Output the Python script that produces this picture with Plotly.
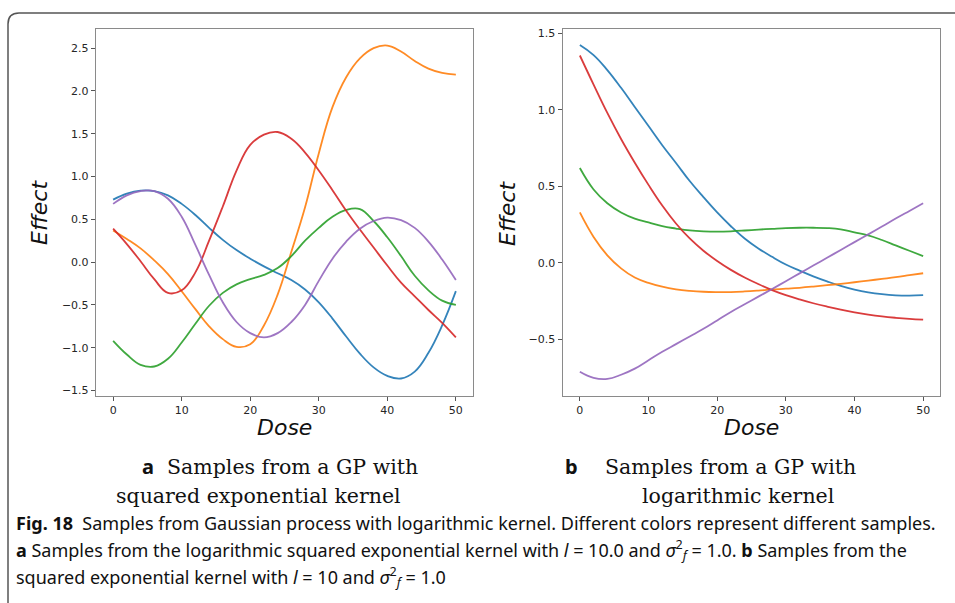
import plotly.graph_objects as go

W, H = 955, 603

# ---------------- data ----------------
dose = [0, 2, 4, 6, 8, 10, 12, 14, 16, 18, 20, 22, 24, 26, 28, 30, 32, 34, 36, 38, 40, 42, 44, 46, 48, 50]

# Panel a: squared exponential kernel samples
a_blue = [0.73, 0.80, 0.835, 0.83, 0.78, 0.68, 0.55, 0.40, 0.26, 0.14, 0.04, -0.05, -0.13, -0.21, -0.32, -0.47,
          -0.66, -0.87, -1.07, -1.23, -1.33, -1.36, -1.28, -1.06, -0.74, -0.34]
a_orange = [0.37, 0.27, 0.16, 0.02, -0.14, -0.34, -0.55, -0.75, -0.90, -0.99, -0.96, -0.74, -0.38, 0.12, 0.64, 1.27,
            1.81, 2.16, 2.38, 2.50, 2.53, 2.46, 2.35, 2.26, 2.21, 2.19]
a_green = [-0.92, -1.08, -1.20, -1.22, -1.13, -0.94, -0.72, -0.51, -0.36, -0.26, -0.20, -0.15, -0.07, 0.07, 0.25, 0.40,
           0.53, 0.61, 0.62, 0.48, 0.29, 0.07, -0.16, -0.33, -0.45, -0.50]
a_red = [0.39, 0.21, 0.01, -0.20, -0.36, -0.33, -0.12, 0.25, 0.65, 1.07, 1.37, 1.49, 1.52, 1.44, 1.28, 1.07,
         0.84, 0.60, 0.38, 0.17, -0.04, -0.24, -0.40, -0.56, -0.71, -0.88]
a_purple = [0.68, 0.78, 0.83, 0.83, 0.74, 0.53, 0.20, -0.15, -0.47, -0.70, -0.83, -0.88, -0.83, -0.70, -0.50, -0.22,
            0.04, 0.24, 0.39, 0.48, 0.52, 0.49, 0.40, 0.24, 0.03, -0.21]

# Panel b: logarithmic kernel samples
b_blue = [1.424, 1.358, 1.26, 1.144, 1.019, 0.894, 0.769, 0.653, 0.535, 0.43, 0.33, 0.24, 0.16, 0.095, 0.04, -0.01,
          -0.05, -0.087, -0.12, -0.15, -0.174, -0.192, -0.204, -0.211, -0.213, -0.21]
b_orange = [0.33, 0.17, 0.05, -0.035, -0.095, -0.13, -0.155, -0.172, -0.182, -0.188, -0.19, -0.19, -0.186, -0.18,
            -0.173, -0.168, -0.162, -0.154, -0.145, -0.136, -0.126, -0.115, -0.104, -0.093, -0.08, -0.067]
b_green = [0.62, 0.48, 0.39, 0.33, 0.29, 0.265, 0.24, 0.225, 0.213, 0.207, 0.205, 0.207, 0.212, 0.218, 0.223, 0.228,
           0.23, 0.23, 0.228, 0.22, 0.20, 0.18, 0.15, 0.115, 0.08, 0.045]
b_red = [1.355, 1.165, 0.98, 0.81, 0.655, 0.51, 0.375, 0.258, 0.16, 0.08, 0.013, -0.045, -0.095, -0.138, -0.177, -0.21,
         -0.238, -0.263, -0.285, -0.305, -0.322, -0.337, -0.349, -0.358, -0.365, -0.37]
b_purple = [-0.71, -0.75, -0.757, -0.73, -0.69, -0.635, -0.58, -0.53, -0.48, -0.43, -0.375, -0.32, -0.27, -0.22,
            -0.17, -0.119, -0.068, -0.017, 0.034, 0.085, 0.136, 0.187, 0.238, 0.29, 0.34, 0.39]

colors = ["#1f77b4", "#ff7f0e", "#2ca02c", "#d62728", "#9467bd"]

x_ticks = [0, 10, 20, 30, 40, 50]
a_y_ticks = [2.5, 2.0, 1.5, 1.0, 0.5, 0.0, -0.5, -1.0, -1.5]
a_y_labels = ["2.5", "2.0", "1.5", "1.0", "0.5", "0.0", "\u22120.5", "\u22121.0", "\u22121.5"]
b_y_ticks = [1.5, 1.0, 0.5, 0.0, -0.5]
b_y_labels = ["1.5", "1.0", "0.5", "0.0", "\u22120.5"]

# ---------------- figure ----------------
fig = go.Figure()

for ys, c in zip([a_blue, a_orange, a_green, a_red, a_purple], colors):
    fig.add_trace(go.Scatter(x=dose, y=ys, mode="lines", xaxis="x", yaxis="y",
                             line=dict(color=c, width=1.8, shape="spline", smoothing=1.2),
                             opacity=0.9, showlegend=False, hoverinfo="skip"))
for ys, c in zip([b_blue, b_orange, b_green, b_red, b_purple], colors):
    fig.add_trace(go.Scatter(x=dose, y=ys, mode="lines", xaxis="x2", yaxis="y2",
                             line=dict(color=c, width=1.8, shape="spline", smoothing=1.2),
                             opacity=0.9, showlegend=False, hoverinfo="skip"))


def px(v):
    return v / W


def py(v):
    return 1 - v / H


tick_font = dict(family="DejaVu Sans", size=11, color="#262626")
axis_common = dict(showgrid=False, zeroline=False, showline=True, mirror=True,
                   linecolor="#8a8a8a", linewidth=1.4, ticks="outside", ticklen=4,
                   tickwidth=1, tickcolor="#555555", tickfont=tick_font, fixedrange=True)

fig.update_layout(
    width=W, height=H, autosize=False,
    margin=dict(l=0, r=0, t=0, b=0),
    paper_bgcolor="white", plot_bgcolor="white",
    xaxis=dict(domain=[px(96), px(473)], range=[-2.5, 52.5], anchor="y",
               tickvals=x_ticks, ticktext=[str(t) for t in x_ticks], **axis_common),
    yaxis=dict(domain=[py(396), py(27)], range=[-1.565, 2.725], anchor="x",
               tickvals=a_y_ticks, ticktext=a_y_labels, **axis_common),
    xaxis2=dict(domain=[px(562.7), px(940.3)], range=[-2.5, 52.5], anchor="y2",
                tickvals=x_ticks, ticktext=[str(t) for t in x_ticks], **axis_common),
    yaxis2=dict(domain=[py(396), py(27)], range=[-0.869, 1.529], anchor="x2",
                tickvals=b_y_ticks, ticktext=b_y_labels, **axis_common),
)

ann_list = []
label_font = dict(family="DejaVu Sans", size=22, color="#111111")
ann_list += [
    dict(x=px(284), y=py(428), text="<i>Dose</i>", font=label_font, xanchor="center"),
    dict(x=px(751), y=py(428), text="<i>Dose</i>", font=label_font, xanchor="center"),
    dict(x=px(40), y=py(212), text="<i>Effect</i>", font=label_font, xanchor="center", textangle=-90),
    dict(x=px(508), y=py(212), text="<i>Effect</i>", font=label_font, xanchor="center", textangle=-90),
]

serif = dict(family="DejaVu Serif", size=20.5, color="#111111")
bold_sans = dict(family="Noto Sans", size=20, color="#111111")

ann_list += [
    dict(x=px(148), y=py(467), text="<b>a</b>", font=bold_sans, xanchor="center"),
    dict(x=px(165), y=py(467), text="Samples from a GP with", font=serif, xanchor="left"),
    dict(x=px(258), y=py(496), text="squared exponential kernel", font=serif, xanchor="center"),
    dict(x=px(571), y=py(467), text="<b>b</b>", font=bold_sans, xanchor="center"),
    dict(x=px(603), y=py(467), text="Samples from a GP with", font=serif, xanchor="left"),
    dict(x=px(738), y=py(496), text="logarithmic kernel", font=serif, xanchor="center"),
]

cap_font = dict(family="Noto Sans", size=18, color="#111111")
cap_lines = [
    "<b>Fig. 18</b>  Samples from Gaussian process with logarithmic kernel. Different colors represent different samples.",
    "<b>a</b> Samples from the logarithmic squared exponential kernel with <i>l</i> = 10.0 and "
    "<i>σ</i><sup>2</sup><sub><i>f</i></sub> = 1.0. <b>b</b> Samples from the",
    "squared exponential kernel with <i>l</i> = 10 and <i>σ</i><sup>2</sup><sub><i>f</i></sub> = 1.0",
]
for txt, yy in zip(cap_lines, [524, 551, 578]):
    ann_list.append(dict(x=px(14), y=py(yy), text=txt, font=cap_font, xanchor="left"))

for a in ann_list:
    fig.add_annotation(xref="paper", yref="paper", yanchor="middle", showarrow=False, **a)

# rounded frame around the figure
r = 11
fig.add_shape(type="path", xref="paper", yref="paper",
              path=f"M {px(8)},{py(610)} L {px(8)},{py(11 + r)} Q {px(8)},{py(11)} {px(8 + r)},{py(11)} L {px(960)},{py(11)}",
              line=dict(color="#555555", width=1.5))

fig.write_html("out.html")
